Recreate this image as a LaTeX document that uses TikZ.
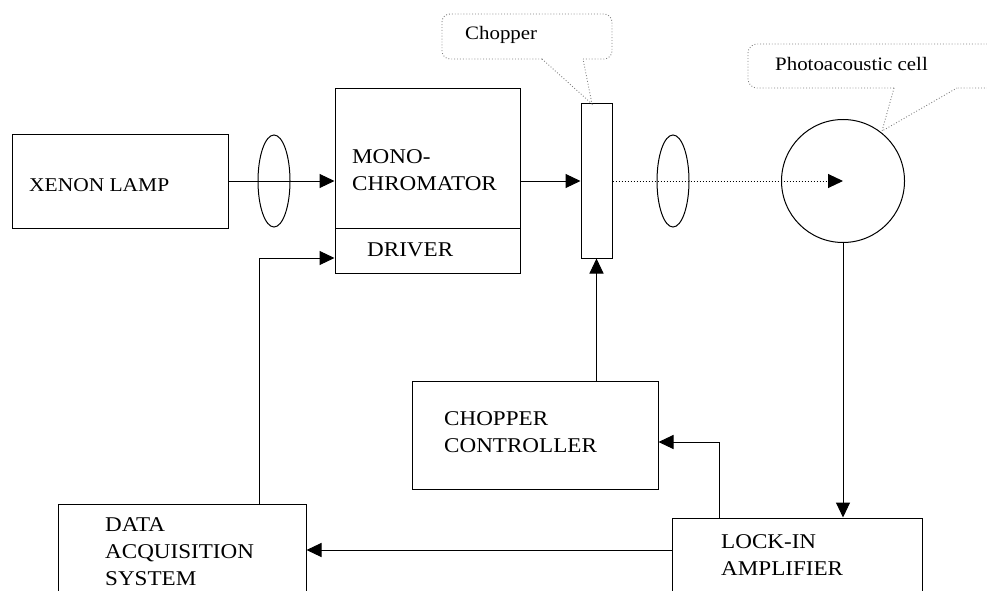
\documentclass[tikz,border=0pt]{standalone}
\usepackage{fontspec}
\setmainfont{Liberation Serif}[FakeStretch=1.1]
\usetikzlibrary{arrows.meta,shapes.geometric}
\begin{document}
\begin{tikzpicture}[x=1pt,y=-1pt,
  box/.style={draw, line width=1pt, rectangle, inner sep=0, minimum width=#1},
  lensshape/.style={draw, line width=1pt, ellipse, inner sep=0, minimum width=32pt, minimum height=92pt},
  arr/.style={line width=1pt, -{Triangle[length=15pt,width=14pt]}},
  lbl/.style={inner sep=0, anchor=west, align=left, font=\fontsize{21}{27}\selectfont},
  clbl/.style={inner sep=0, anchor=west, font=\fontsize{19}{23}\selectfont},
  callout/.style={draw=gray, dotted, line width=0.9pt}]
\useasboundingbox (0,0) rectangle (987,591);
\clip (0,0) rectangle (987,591);
% boxes
\node[box=216pt, minimum height=94pt] (xenon) at (120,181) {};
\node[box=185pt, minimum height=139pt] (monoup) at (427.5,158.5) {};
\node[box=185pt, minimum height=45pt] (driver) at (427.5,250.5) {};
\node[box=31pt, minimum height=154pt] (chopper) at (596.5,181) {};
\node[lensshape] (lens1) at (274,181) {};
\node[lensshape] (lens2) at (673,181) {};
\node[draw, line width=1pt, circle, inner sep=0, minimum size=123pt] (cell) at (843,181) {};
\node[box=246pt, minimum height=108pt] (ctrl) at (535,435) {};
\node[box=248pt, minimum height=116pt] (daq) at (182,562) {};
\node[box=250pt, minimum height=112pt] (lockin) at (797,574) {};
% texts
\node[lbl, font=\fontsize{19.5}{25}\selectfont] (txenon) at (29,185) {XENON LAMP};
\node[lbl] (tmono) at (352,170) {MONO-\\CHROMATOR};
\node[lbl] (tdriver) at (367,250) {DRIVER};
\node[lbl] (tctrl) at (444,432) {CHOPPER\\CONTROLLER};
\node[lbl] (tdaq) at (105,552) {DATA\\ACQUISITION\\SYSTEM};
\node[lbl] (tlock) at (721,555) {LOCK-IN\\AMPLIFIER};
\node[clbl] (tchop) at (465,35) {Chopper};
\node[clbl] (tpa) at (775,64) {Photoacoustic cell};
% callouts
\coordinate (ctip) at (592,104);
\draw[callout, rounded corners=8pt] (583,59) -- (612,59) -- (612,14) -- (442,14) -- (442,59) -- (542,59);
\draw[callout] (542,59) -- (ctip) -- (583,59);
\coordinate (ptip) at (882,131);
\draw[callout, rounded corners=9pt] (894,88) -- (748,88) -- (748,44) -- (998,44) -- (998,88) -- (957,88);
\draw[callout] (894,88) -- (ptip) -- (957,88);
% connectors
\draw[arr] (xenon.east) -- (xenon.east -| monoup.west);
\draw[arr] (chopper.west -| monoup.east) -- (chopper.west);
\draw[arr, dotted] (chopper.east) -- (cell.center);
\draw[arr] (cell.south) -- (cell.south |- lockin.north);
\draw[arr] (chopper.south |- ctrl.north) -- (chopper.south);
\coordinate (lkup) at (719,442);
\draw[arr] (lkup |- lockin.north) |- (lkup -| ctrl.east);
\coordinate (la) at (500,550);
\draw[arr] (la -| lockin.west) -- (la -| daq.east);
\coordinate (dv) at (259,258);
\draw[arr] (dv |- daq.north) |- (dv -| driver.west);
\end{tikzpicture}
\end{document}
